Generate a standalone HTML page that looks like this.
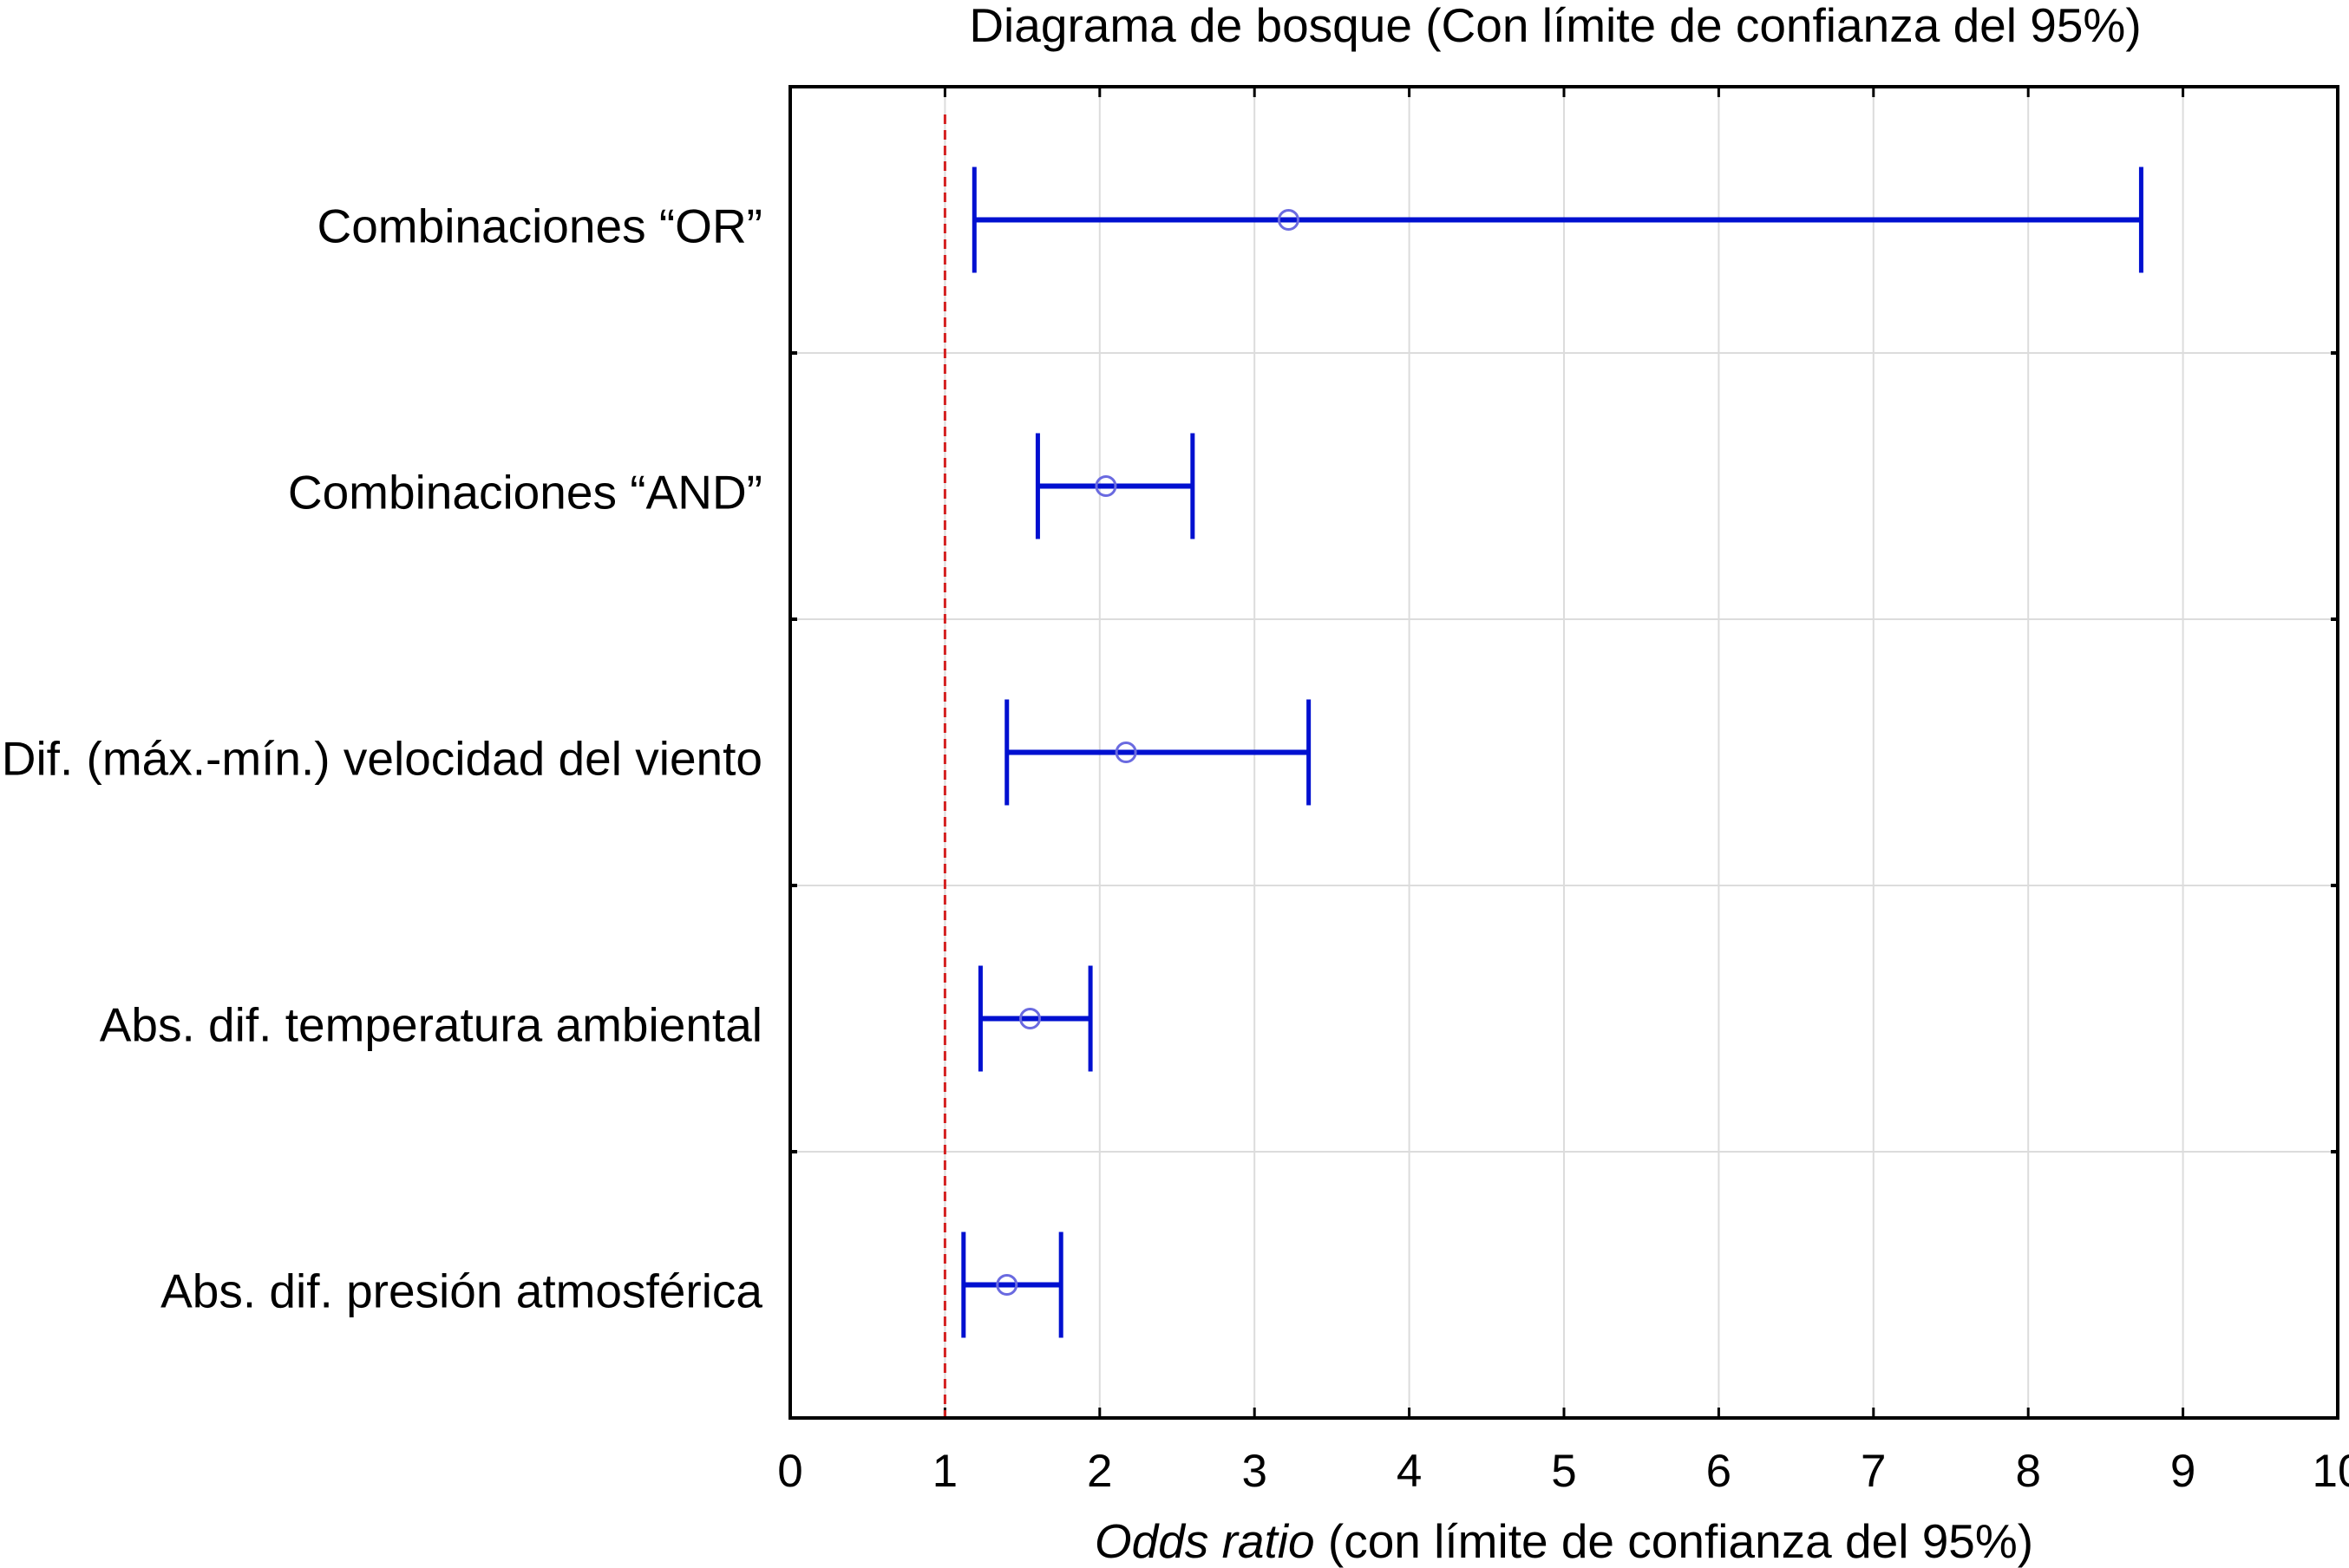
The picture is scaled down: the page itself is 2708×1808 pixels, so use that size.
<!DOCTYPE html>
<html><head><meta charset="utf-8"><style>html,body{margin:0;padding:0;background:#fff}svg{display:block}</style></head>
<body>
<svg id="chart" width="2708" height="1808" viewBox="0 0 2708 1808" xmlns="http://www.w3.org/2000/svg" font-family="'Liberation Sans', Arial, sans-serif">
<rect width="2708" height="1808" fill="#fff"/>
<text x="1793" y="48" font-size="55" text-anchor="middle">Diagrama de bosque (Con límite de confianza del 95%)</text>
<g id="grid"></g>
<g id="marks"></g>
<g id="labels"></g>
<rect x="911" y="100" width="1784" height="1535" fill="none" stroke="#000" stroke-width="4"/>
<text x="1803" y="1796" font-size="55" text-anchor="middle"><tspan font-style="italic">Odds ratio</tspan> (con límite de confianza del 95%)</text>
</svg>
<script>
const categories = ["Combinaciones “OR”","Combinaciones “AND”","Dif. (máx.-mín.) velocidad del viento","Abs. dif. temperatura ambiental","Abs. dif. presión atmosférica"];
const estimates = [3.22, 2.04, 2.17, 1.55, 1.40];
const lowerCI = [1.19, 1.60, 1.40, 1.23, 1.12];
const upperCI = [8.73, 2.60, 3.35, 1.94, 1.75];
const xTicks = [0,1,2,3,4,5,6,7,8,9,10];
const refValue = 1;

const NS="http://www.w3.org/2000/svg";
const L=911,R=2695,T=100,B=1635;
const x=v=>L+(v-0)/(10-0)*(R-L);
const rowH=(B-T)/categories.length;
const y=i=>T+rowH*(i+0.5);
function mk(tag,attrs,parent){const e=document.createElementNS(NS,tag);for(const k in attrs)e.setAttribute(k,attrs[k]);parent.appendChild(e);return e;}
const grid=document.getElementById('grid'),marks=document.getElementById('marks'),labels=document.getElementById('labels');
xTicks.forEach(t=>{
  const g=mk('line',{x1:x(t),x2:x(t),y1:T,y2:B,stroke:'#dcdcdc','stroke-width':2},grid);
  
  
  const tk=mk('line',{x1:x(t),x2:x(t),y1:T,y2:T+12,stroke:'#000','stroke-width':3},grid);
  
  
  const tb=mk('line',{x1:x(t),x2:x(t),y1:B-12,y2:B,stroke:'#000','stroke-width':3},grid);
  
  
  const tl=mk('text',{x:x(t),y:1714,'font-size':53,'text-anchor':'middle'},labels);
  tl.textContent=t;
  
  
});
for(let i=1;i<categories.length;i++){
  const yy=T+rowH*i;
  const s=mk('line',{x1:L,x2:R,y1:yy,y2:yy,stroke:'#dcdcdc','stroke-width':2},grid);
  
  
  const a=mk('line',{x1:L,x2:L+8,y1:yy,y2:yy,stroke:'#000','stroke-width':4},grid);
  
  
  const b=mk('line',{x1:R-8,x2:R,y1:yy,y2:yy,stroke:'#000','stroke-width':4},grid);
  
  
}
const ref=mk('line',{x1:x(refValue),x2:x(refValue),y1:132,y2:B,stroke:'#d42020','stroke-width':3,'stroke-dasharray':'11 7'},marks);


categories.forEach((c,i)=>{
  const yc=y(i);
  const h=mk('line',{x1:x(lowerCI[i]),x2:x(upperCI[i]),y1:yc,y2:yc,stroke:'#0010d0','stroke-width':6},marks);
  
  
  [lowerCI[i],upperCI[i]].forEach(v=>{
    const w=mk('line',{x1:x(v),x2:x(v),y1:yc-61,y2:yc+61,stroke:'#0010d0','stroke-width':5},marks);
    
    
  });
  const p=mk('circle',{cx:x(estimates[i]),cy:yc,r:11,fill:'none',stroke:'#6a6ae0','stroke-width':3},marks);
  
  
  const t=mk('text',{x:879,y:yc+26,'font-size':55,'text-anchor':'end'},labels);
  t.textContent=c;
  
  
});
</script>
</body></html>
